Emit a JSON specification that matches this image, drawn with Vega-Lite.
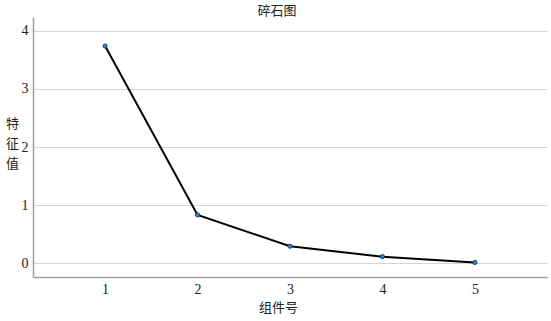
{
  "$schema": "https://vega.github.io/schema/vega-lite/v6.json",
  "autosize": {"type": "none"},
  "width": 514,
  "height": 260,
  "padding": {"left": 33, "top": 17, "right": 4, "bottom": 44},
  "background": "white",
  "title": {"text": "碎石图", "font": "Liberation Serif, Noto Sans CJK SC", "fontSize": 13, "fontWeight": "normal", "color": "#222", "offset": 0, "dx": -13, "dy": 14, "baseline": "bottom", "anchor": "middle"},
  "config": {"view": {"stroke": null}, "font": "Liberation Serif, Noto Sans CJK SC"},
  "data": {"values": [
    {"component": 1, "eigen": 3.74},
    {"component": 2, "eigen": 0.83},
    {"component": 3, "eigen": 0.29},
    {"component": 4, "eigen": 0.11},
    {"component": 5, "eigen": 0.01}
  ]},
  "encoding": {
    "x": {"field": "component", "type": "quantitative",
      "scale": {"domain": [0.22, 5.78], "nice": false, "zero": false},
      "axis": {"title": "组件号", "values": [1, 2, 3, 4, 5], "grid": false, "ticks": false,
        "domainColor": "#a0a0a0", "domainWidth": 1.5, "labelFont": "Liberation Serif", "labelFontSize": 14, "labelColor": "#222",
        "labelPadding": 5, "titleFont": "Liberation Serif, Noto Sans CJK SC", "titleFontSize": 13, "titleFontWeight": "normal", "titleColor": "#222", "titlePadding": 5, "titleX": 245}},
    "y": {"field": "eigen", "type": "quantitative",
      "scale": {"domain": [-0.24, 4.24], "nice": false, "zero": false},
      "axis": {"title": ["特", "征", "值"], "values": [0, 1, 2, 3, 4], "grid": true, "gridColor": "#d4d4d4", "gridWidth": 1, "ticks": false,
        "domainColor": "#a0a0a0", "domainWidth": 1.5, "labelFont": "Liberation Serif", "labelFontSize": 14, "labelColor": "#222", "labelPadding": 5,
        "titleFont": "Liberation Serif, Noto Sans CJK SC", "titleFontSize": 13, "titleFontWeight": "normal", "titleColor": "#222",
        "titleAngle": 0, "titleAlign": "center", "titleBaseline": "top", "titleX": -21, "titleY": 100, "titleLineHeight": 20}}
  },
  "layer": [
    {"mark": {"type": "line", "color": "#000000", "strokeWidth": 2}},
    {"mark": {"type": "point", "filled": true, "fill": "#1e88e5", "stroke": "#0a2a4a", "strokeWidth": 0.8, "size": 18, "opacity": 1}}
  ]
}
